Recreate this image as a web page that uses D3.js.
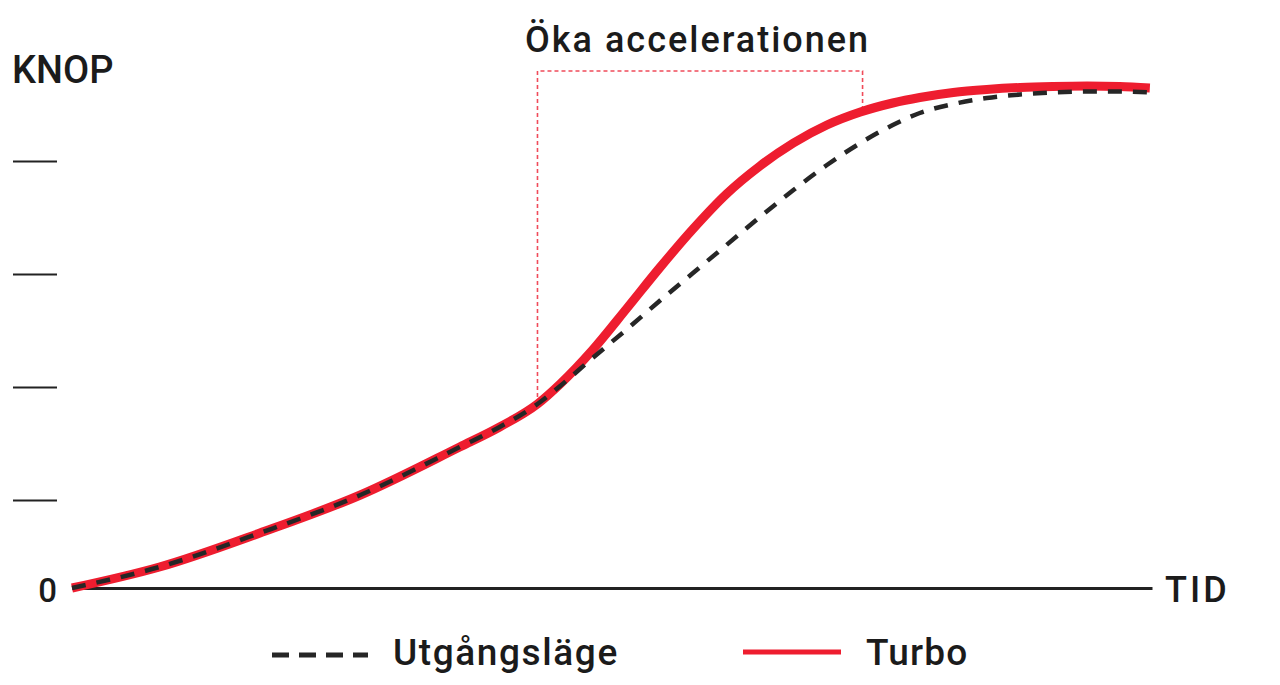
<!DOCTYPE html>
<meta charset="utf-8">
<style>
  body { margin: 0; background: #fff; }
  text { font-family: Roboto, "Noto Sans", sans-serif; font-weight: 500; fill: #1b1b1b; }
  .ticks line { stroke: #222; stroke-width: 2; }
</style>
<body>
<div id="chart"></div>
<script src="https://d3js.org/d3.v7.min.js"></script>
<script>
// time steps (0-100) and speed for both series (0-100)
var time  = [0, 8.1, 17.4, 26.7, 35.9, 39.6, 43.1, 45.2, 48.2, 51.4, 54.4, 57.5, 60.6, 63.7, 66.8, 69.9, 73, 76, 78.5, 81.6, 84.7, 87.8, 90.8, 94, 97, 99.8];
var base  = [0, 4.2, 11, 18.6, 28.2, 32.2, 36.8, 40.4, 46, 51.8, 57.4, 63, 68.6, 74.2, 79.6, 84.6, 89, 92.6, 95, 96.8, 98, 98.7, 99.1, 99.3, 99.3, 99.1];
var turbo = [0, 4.2, 11, 18.6, 28.2, 32.2, 36.8, 40.8, 47.6, 56, 64, 71.8, 78.8, 84.4, 89, 92.6, 95.2, 97, 98.1, 99.1, 99.7, 100.1, 100.3, 100.4, 100.3, 100];

var yTicks = [17.6, 40.2, 62.8, 85.4];
var accel = [43.1, 73.2];      // start / end of the highlighted range
var accelTop = 103.4;

var seriesNames = ["Utgångsläge", "Turbo"];

var width = 1280,
    height = 685;

var red = "#ee1d2f",
    dark = "#262626";

var x = d3.scaleLinear().domain([0, 100]).range([72, 1152]);
var y = d3.scaleLinear().domain([0, 100]).range([588, 88]);

var svg = d3.select("#chart").append("svg")
    .attr("width", width)
    .attr("height", height);

// short tick marks on the left, no axis line
var yAxis = svg.append("g")
    .attr("class", "ticks")
    .attr("transform", "translate(57,0)")
    .call(d3.axisLeft(y).tickValues(yTicks).tickSize(44).tickFormat(""));
yAxis.select(".domain").remove();

// time axis
var xAxis = svg.append("g")
    .attr("transform", "translate(0," + y(0) + ")")
    .call(d3.axisBottom(x).tickValues([]).tickSizeOuter(0));
xAxis.select(".domain").attr("stroke", "#222").attr("stroke-width", 3);

svg.append("text").attr("x", 12).attr("y", 83).style("font-size", "38px").text("KNOP");
svg.append("text").attr("x", 57).attr("y", 602).attr("text-anchor", "end").style("font-size", "33px").text("0");
svg.append("text").attr("x", 1165).attr("y", 602).style("font-size", "36px").style("letter-spacing", "3px").text("TID");

// dashed box marking the acceleration
function valueAt(arr, t) {
  var i = d3.bisectLeft(time, t);
  if (i <= 0) return arr[0];
  var t0 = time[i - 1], t1 = time[i];
  return arr[i - 1] + (arr[i] - arr[i - 1]) * (t - t0) / (t1 - t0);
}
var boxPts = [
  [x(accel[0]), y(valueAt(base, accel[0]))],
  [x(accel[0]), y(accelTop)],
  [x(accel[1]), y(accelTop)],
  [x(accel[1]), y(valueAt(turbo, accel[1]))]
];
svg.append("path")
    .attr("d", d3.line()(boxPts))
    .attr("fill", "none")
    .attr("stroke", "#f04b5a")
    .attr("stroke-width", 1.6)
    .attr("stroke-dasharray", "4,3");

svg.append("text")
    .attr("x", 525).attr("y", 52)
    .style("font-size", "36px")
    .style("letter-spacing", "2px")
    .text("Öka accelerationen");

var line = d3.line()
    .x(function(d, i) { return x(time[i]); })
    .y(function(d) { return y(d); })
    .curve(d3.curveMonotoneX);

svg.append("path")
    .attr("d", line(turbo))
    .attr("fill", "none")
    .attr("stroke", red)
    .attr("stroke-width", 9);

svg.append("path")
    .attr("d", line(base))
    .attr("fill", "none")
    .attr("stroke", dark)
    .attr("stroke-width", 4.5)
    .attr("stroke-dasharray", "14,11");

// legend
var legend = svg.append("g");
legend.append("line")
    .attr("x1", 272).attr("x2", 368).attr("y1", 655).attr("y2", 655)
    .attr("stroke", dark).attr("stroke-width", 5)
    .attr("stroke-dasharray", "17,10");
legend.append("text").attr("x", 393).attr("y", 665).style("font-size", "37px").style("letter-spacing", "1.6px").text(seriesNames[0]);
legend.append("line")
    .attr("x1", 743).attr("x2", 841).attr("y1", 652).attr("y2", 652)
    .attr("stroke", red).attr("stroke-width", 5);
legend.append("text").attr("x", 866).attr("y", 665).style("font-size", "37px").style("letter-spacing", "1.2px").text(seriesNames[1]);
</script>
</body>
